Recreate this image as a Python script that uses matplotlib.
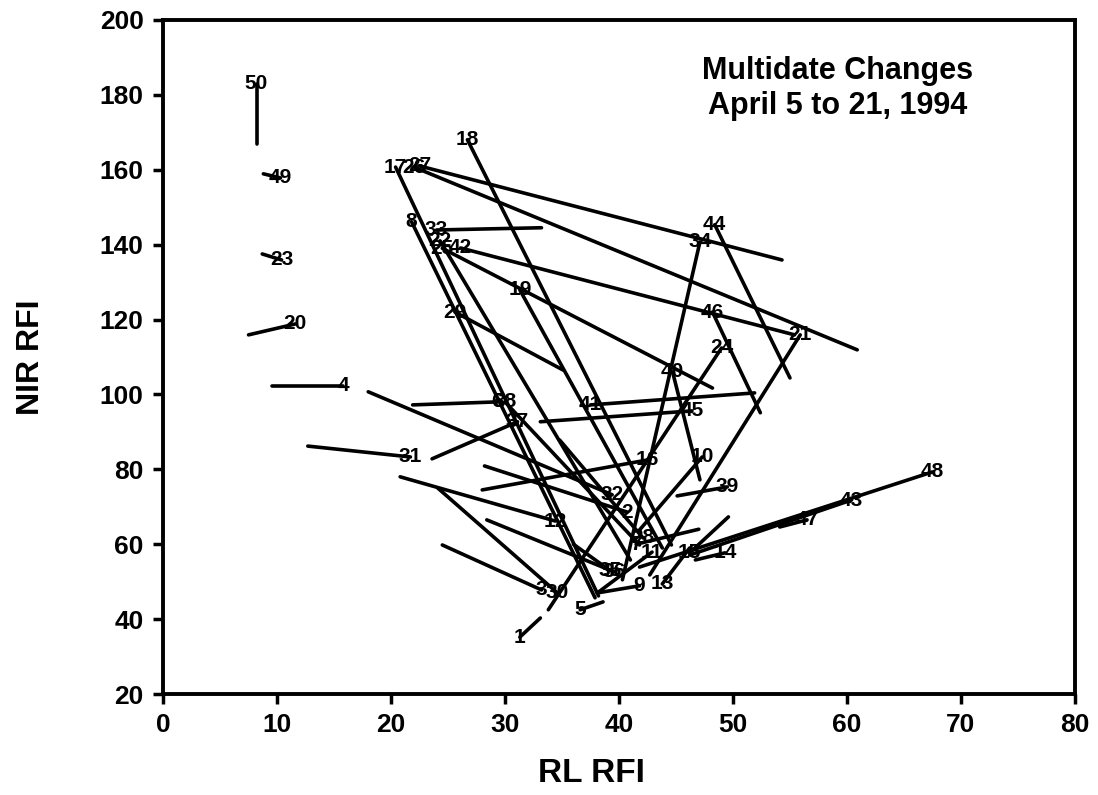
import matplotlib
matplotlib.use('Agg')
import matplotlib.pyplot as plt

# field number, labelled end (x0, y0) and other end (x1, y1) in RL / NIR RFI
field = ['1', '2', '3', '4', '5', '6', '7', '8', '9', '10',
         '11', '12', '13', '14', '15', '16', '17', '18', '19', '20',
         '21', '22', '23', '24', '25', '26', '27', '28', '29', '30',
         '31', '32', '33', '34', '35', '36', '37', '38', '39', '40',
         '41', '42', '43', '44', '45', '46', '47', '48', '49', '50']
x0 = [31.3, 40.7, 33.2, 15.8, 36.6, 29.3, 41.5, 21.8, 41.8, 47.3,
      42.9, 34.4, 43.8, 49.3, 46.2, 42.5, 20.4, 26.7, 31.3, 11.6,
      55.9, 24.3, 10.4, 49.0, 24.5, 22.0, 22.5, 42.1, 25.6, 34.6,
      21.7, 39.4, 24.0, 47.1, 39.2, 39.6, 31.1, 30.0, 49.5, 44.7,
      37.5, 26.1, 60.4, 48.4, 46.4, 48.2, 56.5, 67.5, 10.3, 8.2]
y0 = [35.2, 68.6, 47.8, 102.3, 42.5, 98.0, 60.0, 146.1, 48.9, 83.3,
      57.9, 66.2, 49.4, 57.7, 57.7, 82.5, 160.7, 168.0, 127.9, 118.8,
      115.9, 141.0, 135.9, 112.4, 139.0, 160.7, 161.0, 61.7, 122.0, 47.0,
      83.3, 73.2, 143.9, 140.7, 53.0, 52.6, 92.7, 98.0, 75.3, 106.0,
      97.2, 139.1, 71.8, 145.3, 95.6, 122.0, 66.5, 79.3, 157.8, 182.9]
x1 = [33.1, 28.2, 24.5, 9.6, 38.6, 21.9, 47.0, 37.9, 38.1, 41.8,
      38.1, 20.8, 46.2, 46.7, 49.6, 28.0, 38.2, 44.6, 43.8, 7.5,
      42.7, 41.0, 8.7, 33.8, 48.2, 60.9, 54.3, 34.8, 35.1, 24.1,
      12.7, 18.0, 33.2, 40.3, 36.0, 28.4, 23.6, 41.8, 45.1, 47.1,
      51.9, 55.4, 46.2, 55.0, 33.1, 52.4, 54.1, 41.8, 8.8, 8.2]
y1 = [40.3, 80.9, 59.8, 102.3, 44.6, 97.2, 64.0, 45.7, 47.0, 63.8,
      47.0, 78.0, 59.0, 55.8, 67.3, 74.5, 46.2, 59.8, 59.0, 115.9,
      51.8, 55.8, 137.5, 42.5, 101.7, 111.9, 135.9, 87.8, 106.5, 75.0,
      86.2, 100.7, 144.5, 50.5, 60.0, 66.5, 82.8, 59.8, 72.9, 77.2,
      100.4, 115.9, 57.1, 104.4, 92.7, 95.1, 64.6, 53.9, 158.9, 166.9]

fam = ['Liberation Sans', 'DejaVu Sans']

fig = plt.figure(figsize=(10.98, 7.95), dpi=100)
ax = fig.add_axes([0.1485, 0.127, 0.8305, 0.848])

for i in range(len(field)):
    ax.plot([x0[i], x1[i]], [y0[i], y1[i]], color='black', lw=2.6,
            solid_capstyle='round')
    ax.text(x0[i], y0[i], field[i], ha='center', va='center', fontsize=15,
            fontweight='bold', family=fam)

ax.text(59.2, 181.6, 'Multidate Changes\nApril 5 to 21, 1994', ha='center',
        va='center', fontsize=22, fontweight='bold', linespacing=1.2,
        family=fam)

ax.set_xlim(0, 80)
ax.set_ylim(20, 200)
ax.set_xticks(range(0, 81, 10))
ax.set_yticks(range(20, 201, 20))
for lab in ax.get_xticklabels() + ax.get_yticklabels():
    lab.set_fontweight('bold')
    lab.set_fontsize(19)
    lab.set_family(fam)
ax.tick_params(direction='out', length=7, width=2.5, pad=7)
for s in ax.spines.values():
    s.set_linewidth(2.8)
ax.set_xlabel('RL RFI', fontsize=24, fontweight='bold', labelpad=0,
              family=fam)
ax.xaxis.set_label_coords(0.47, -0.095)
ax.set_ylabel('NIR RFI', fontsize=23, fontweight='bold', family=fam)
ax.yaxis.set_label_coords(-0.128, 0.5)

fig.savefig('out.png', dpi=100)
